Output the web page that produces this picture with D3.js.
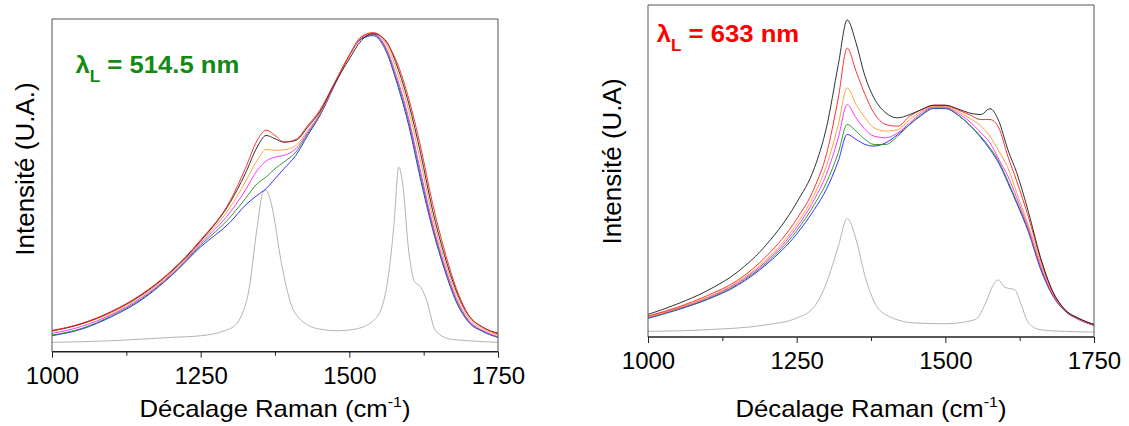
<!DOCTYPE html>
<html><head><meta charset="utf-8">
<script src="https://cdn.jsdelivr.net/npm/d3@7"></script>
<style>
body{margin:0;background:#fff}
svg{display:block}
text{font-family:"Liberation Sans",Arial,Helvetica,sans-serif}
</style>
</head><body>
<svg id="chart" width="1129" height="426"></svg>
<script>
// ---------- data (Raman shift in cm-1, intensity in arbitrary units 0-100) ----------
const majorTicks = [1000, 1250, 1500, 1750];
const minorTicks = [1125, 1375, 1625];

// Left panel : lambda = 514.5 nm
const wnL = [1000,1050,1100,1150,1200,1250,1300,1325,1345,1360,1375,1390,1410,1430,1450,1475,1500,1520,1540,1560,1580,1600,1620,1640,1660,1680,1700,1725,1750];
const redL     = [6.3,8.5,12.1,17.2,24.2,33.6,45.5,55.0,63.5,66.6,65.0,63.0,63.8,68.0,72.5,80.8,89.2,94.7,95.9,93.5,87.0,76.0,61.5,44.5,30.5,19.0,11.2,7.3,5.3];
const blackL   = [6.2,8.4,12.0,17.0,24.0,33.3,45.0,53.5,61.5,65.0,64.0,63.0,63.5,67.5,72.0,80.5,88.0,93.5,95.6,93.8,86.0,74.5,59.5,42.5,29.0,18.2,11.0,7.3,5.6];
const orangeL  = [6.5,8.3,11.7,16.7,23.6,33.0,43.5,51.0,57.5,60.8,60.5,60.7,62.0,66.5,71.5,80.5,89.0,94.5,95.8,93.0,84.5,72.5,57.0,40.5,27.5,17.2,10.3,6.8,5.0];
const magentaL = [5.5,7.6,11.2,16.2,23.2,32.5,42.0,48.5,54.5,57.3,58.5,59.0,61.0,66.0,71.3,80.3,89.0,94.3,95.5,92.0,82.5,70.0,54.0,38.5,26.0,16.0,9.6,6.3,4.5];
const greenL   = [5.0,7.0,10.8,15.8,22.9,32.0,40.5,46.0,50.5,52.5,55.0,57.0,60.0,65.5,71.0,80.2,89.0,94.2,95.3,91.5,81.5,69.0,52.8,37.6,25.3,15.4,9.3,6.1,4.4];
const blueL    = [4.8,6.8,10.5,15.5,22.7,31.5,39.0,44.0,47.0,49.0,52.0,55.0,59.0,65.0,70.8,80.0,89.0,94.0,95.0,91.0,80.8,67.9,51.6,36.8,24.7,14.9,9.0,6.0,4.3];
const wnGrayL  = [1000,1100,1200,1250,1290,1310,1320,1330,1345,1355,1360,1370,1385,1400,1420,1450,1480,1510,1540,1555,1565,1575,1583,1590,1600,1610,1620,1630,1645,1670,1700,1750];
const grayL    = [2.8,3.3,4.3,4.8,6.3,8.3,11.5,17.4,37.4,48.0,48.5,43.5,27.4,15.4,9.3,6.8,6.3,6.8,9.3,13.5,22.0,38.0,55.5,50.0,30.0,21.0,19.5,15.4,6.3,3.8,3.3,2.8];

// Right panel : lambda = 633 nm
const wnR = [1000,1050,1100,1150,1200,1250,1280,1300,1320,1335,1350,1365,1380,1400,1420,1440,1460,1480,1500,1520,1540,1560,1575,1590,1605,1620,1640,1660,1680,1700,1725,1750];
const blackR   = [6.8,10.0,14.0,19.5,28.0,40.5,51.0,63.0,82.0,95.5,88.5,78.5,72.0,67.5,66.0,67.0,68.5,69.8,69.8,68.8,67.5,67.0,68.8,65.0,56.5,49.5,37.5,24.0,14.0,8.5,5.6,3.8];
const redR     = [6.3,9.0,12.5,17.0,24.5,35.5,45.0,55.0,72.0,87.0,80.0,73.0,67.5,64.0,63.5,66.5,68.5,69.8,69.8,68.5,67.0,65.5,65.5,63.0,54.5,47.0,36.0,23.5,13.8,8.4,5.5,3.7];
const orangeR  = [6.0,8.7,12.0,16.5,23.5,34.0,43.0,51.5,64.0,75.0,70.0,66.0,63.0,62.0,62.5,65.5,68.0,69.5,69.5,68.0,66.0,63.5,60.5,56.0,51.0,43.5,33.5,22.5,13.4,8.3,5.4,3.6];
const magentaR = [6.0,8.6,11.8,16.2,23.0,33.0,41.5,49.0,60.0,70.0,66.0,62.5,60.5,60.0,61.5,64.5,67.5,69.3,69.3,67.5,65.0,61.5,58.5,53.5,48.5,42.0,32.5,21.5,13.0,8.2,5.3,3.5];
const greenR   = [5.8,8.4,11.5,15.8,22.5,32.0,40.0,46.5,55.5,64.0,62.0,59.5,58.0,58.0,60.5,64.0,67.0,69.0,69.0,67.0,64.0,60.3,57.0,52.8,47.0,40.8,32.0,21.0,12.8,8.1,5.3,3.5];
const blueR    = [5.6,8.2,11.3,15.5,22.0,31.0,38.5,44.5,53.0,61.0,59.5,58.0,57.5,58.5,61.0,64.0,66.8,68.8,68.8,67.0,64.0,60.0,56.5,52.3,46.5,40.3,31.5,20.5,12.6,8.0,5.2,3.5];
const wnGrayR  = [1000,1100,1200,1250,1280,1300,1320,1335,1350,1365,1380,1400,1450,1500,1550,1570,1580,1589,1600,1617,1625,1640,1660,1700,1750];
const grayR    = [1.7,2.2,3.7,5.7,9.2,16.2,27.3,35.7,29.3,18.3,10.7,6.7,4.2,4.0,5.2,11.2,15.5,17.2,15.0,14.2,11.0,4.2,2.2,1.7,1.5];

const colors = {black:"#1a1a1a", red:"#ff1a1a", orange:"#ff9a2a", magenta:"#ff20ff", green:"#1a8c1a", blue:"#1a1aff", gray:"#b4b4b4"};

// ---------- drawing ----------
const svg = d3.select("#chart");
svg.append("rect").attr("width",1129).attr("height",426).attr("fill","#fff");

function drawPanel(p) {
  const x = d3.scaleLinear().domain([1000,1750]).range([p.x0,p.x1]);
  const y = d3.scaleLinear().domain([0,100]).range([p.yb,p.yt]);
  const g = svg.append("g");

  const line = d3.line().x(d=>x(d[0])).y(d=>y(d[1])).curve(d3.curveMonotoneX);
  g.append("path").datum(p.grayWn.map((w,i)=>[w,p.gray[i]]))
    .attr("d",line).attr("fill","none").attr("stroke",colors.gray).attr("stroke-width",1);
  p.series.forEach(s=>{
    g.append("path").datum(p.wn.map((w,i)=>[w,s.v[i]]))
      .attr("d",line).attr("fill","none").attr("stroke",colors[s.c]).attr("stroke-width",0.9);
  });

  // frame
  g.append("path").attr("d",`M${p.x0},${p.yb}V${p.yt}H${p.x1}V${p.yb}`)
    .attr("fill","none").attr("stroke","#555").attr("stroke-width",1);

  // axes
  const ax = g.append("g").attr("transform",`translate(0,${p.yb})`)
    .call(d3.axisBottom(x).tickValues(majorTicks).tickSize(6).tickFormat(d3.format("d")));
  ax.select(".domain").remove();
  ax.selectAll("line").attr("stroke","#222");
  ax.selectAll("text").attr("y",32).attr("dy",null).attr("font-size",24)
    .attr("fill","#000").style("font-family",'"Liberation Sans",Arial,sans-serif');
  const axm = g.append("g").attr("transform",`translate(0,${p.yb})`)
    .call(d3.axisBottom(x).tickValues(minorTicks).tickSize(4).tickFormat(""));
  axm.select(".domain").remove();
  axm.selectAll("line").attr("stroke","#222");
  g.append("line").attr("x1",p.x0).attr("x2",p.x1).attr("y1",p.yb).attr("y2",p.yb)
    .attr("stroke","#222").attr("stroke-width",1.5);

  // x title
  const xt = g.append("text").attr("transform",`translate(${(p.x0+p.x1)/2},416.7) scale(1.07,1)`)
    .attr("text-anchor","middle").attr("font-size",24).attr("fill","#000");
  xt.append("tspan").text("Décalage Raman (cm");
  xt.append("tspan").attr("font-size",15).attr("dy",-10).text("-1");
  xt.append("tspan").attr("dy",10).text(")");

  // y title
  g.append("text").attr("transform",`translate(${p.ytx},${p.yty}) rotate(-90)`)
    .attr("text-anchor","middle").attr("font-size",26).attr("fill","#000").text(p.ytitle);

  // laser label
  const lb = g.append("text").attr("transform",`translate(${p.lx},${p.ly}) scale(1.07,1)`)
    .attr("font-size",24).attr("font-weight","bold").attr("fill",p.lcolor);
  lb.append("tspan").text("λ");
  lb.append("tspan").attr("font-size",16).attr("dy",9).text("L");
  lb.append("tspan").attr("dy",-9).text(" = " + p.ltext);
}

drawPanel({
  x0:52, x1:498, yt:19, yb:351.7,
  wn:wnL, grayWn:wnGrayL, gray:grayL,
  series:[{c:"blue",v:blueL},{c:"green",v:greenL},{c:"magenta",v:magentaL},{c:"orange",v:orangeL},{c:"black",v:blackL},{c:"red",v:redL}],
  ytitle:"Intensité (U.A.)", ytx:34, yty:169,
  lx:75.5, ly:72.7, lcolor:"#138a13", ltext:"514.5 nm"
});
drawPanel({
  x0:648, x1:1094, yt:5, yb:337,
  wn:wnR, grayWn:wnGrayR, gray:grayR,
  series:[{c:"blue",v:blueR},{c:"green",v:greenR},{c:"magenta",v:magentaR},{c:"orange",v:orangeR},{c:"red",v:redR},{c:"black",v:blackR}],
  ytitle:"Intensité (U.A)", ytx:621, yty:161.5,
  lx:656.7, ly:41.7, lcolor:"#ff0000", ltext:"633 nm"
});
</script>
</body></html>
